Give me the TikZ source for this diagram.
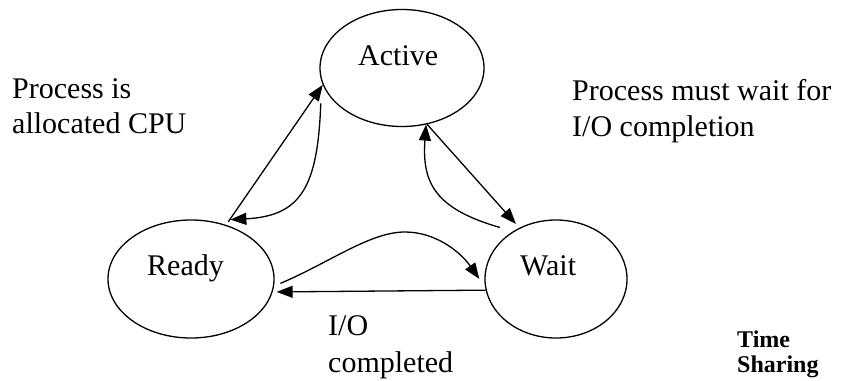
\documentclass[tikz,border=0pt]{standalone}
\usepackage{fontspec}
\setmainfont{Liberation Serif}
\usetikzlibrary{shapes.geometric,arrows.meta}
\begin{document}
\begin{tikzpicture}[x=1pt,y=-1pt,
  state/.style={draw, ellipse, line width=1.3pt, inner sep=0pt},
  flow/.style={line width=1.3pt, -{Triangle[length=16pt,width=12pt]}},
  txt/.style={font=\fontsize{30}{36}\selectfont, inner sep=0pt, anchor=base west},
  note/.style={font=\fontsize{24}{25}\selectfont\bfseries, inner sep=0pt, anchor=base west}]
\useasboundingbox (0,0) rectangle (842,380);

% process states
\node[state, minimum width=164pt, minimum height=117pt] (active) at (402,68) {};
\node[state, minimum width=166pt, minimum height=118pt] (ready) at (191,279) {};
\node[state, minimum width=142pt, minimum height=118pt] (wait) at (556,279) {};

\node[txt] (activetxt) at (358,65) {Active};
\node[txt] (readytxt) at (147,275) {Ready};
\node[txt] (waittxt) at (520,275) {Wait};

% Ready <-> Active
\draw[flow] ([shift={(0,-4)}]ready.55) -- (active.192);
\draw[flow] ([shift={(-12,3)}]active.205)
  to[out=-92, in=3, out distance=85pt, in distance=70pt] ([shift={(2,-6)}]ready.55);

% Active <-> Wait
\draw[flow] (active.294) -- ([shift={(-3,-4)}]wait.126);
\draw[flow] ([xshift=-20pt]wait.125)
  to[out=164, in=-94, out distance=68pt, in distance=58pt] (active.293);

% Ready <-> Wait
\coordinate (crest) at (405,232);
\draw[flow] ([xshift=6pt]ready.357)
  to[out=23, in=180, out distance=54pt, in distance=35pt] (crest)
  to[out=0, in=125, out distance=30pt, in distance=34pt] ([xshift=-5pt]wait.180);
\draw[flow] (wait.189) -- ([xshift=4pt]ready.351);

% transition labels
\node[txt] (cpu1) at (12,98) {Process is};
\node[txt] (cpu2) at (12,133) {allocated CPU};
\node[txt] (io1) at (572,100) {Process must wait for};
\node[txt] (io2) at (572,136) {I/O completion};
\node[txt] (done1) at (328,335) {I/O};
\node[txt] (done2) at (328,372) {completed};

\node[note] (ts1) at (737,347) {Time};
\node[note] (ts2) at (737,372) {Sharing};
\end{tikzpicture}
\end{document}
